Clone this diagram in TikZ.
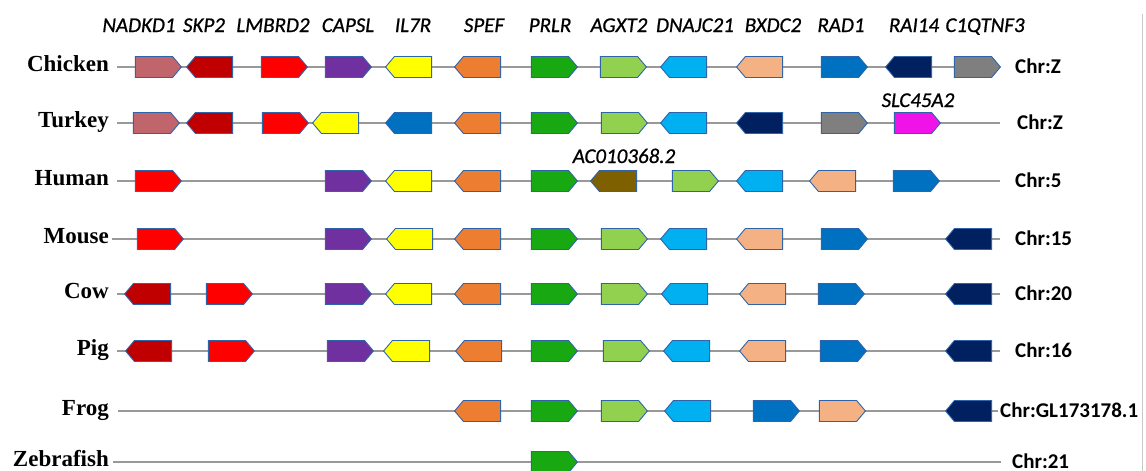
\documentclass[tikz,border=0pt]{standalone}
\usepackage{fontspec}
\setmainfont{Liberation Serif}
\setsansfont{Carlito}
\newfontfamily\headfont[FakeBold=0.8]{Carlito}
\usetikzlibrary{shapes.symbols}
\definecolor{cRose}{HTML}{C0656B}
\definecolor{cDkRed}{HTML}{C00000}
\definecolor{cRed}{HTML}{FF0000}
\definecolor{cPurple}{HTML}{7030A0}
\definecolor{cYellow}{HTML}{FFFF00}
\definecolor{cOrange}{HTML}{ED7D31}
\definecolor{cGreen}{HTML}{18A812}
\definecolor{cLtGreen}{HTML}{92D050}
\definecolor{cSky}{HTML}{00B0F0}
\definecolor{cPeach}{HTML}{F4B183}
\definecolor{cBlue}{HTML}{0070C0}
\definecolor{cNavy}{HTML}{002060}
\definecolor{cGray}{HTML}{7F7F7F}
\definecolor{cMagenta}{HTML}{F013E8}
\definecolor{cBrown}{HTML}{7F6000}
\definecolor{cEdge}{HTML}{2F64AA}
\definecolor{cLine}{HTML}{999999}
\newcommand\G[5]{\node[gene,fill=#4,signal to=#5] (#1) at (#2,#3) {};}
\begin{document}
\begin{tikzpicture}[x=1pt,y=-1pt,
  gene/.style={signal,draw=cEdge,line width=0.9pt,minimum width=46pt,minimum height=21pt,inner sep=0pt,outer sep=0pt,signal pointer angle=100},
  backbone/.style={draw=cLine,line width=1.5pt},
  head/.style={font=\headfont\itshape\fontsize{21}{24}\selectfont,anchor=base,inner sep=0pt},
  species/.style={font=\rmfamily\bfseries\fontsize{23}{26}\selectfont,anchor=base east,inner sep=0pt},
  chr/.style={font=\sffamily\bfseries\fontsize{21}{24}\selectfont,anchor=base west,inner sep=0pt}]
\useasboundingbox (0,0) rectangle (1146,471);
\draw[draw={rgb,255:red,200;green,200;blue,200},line width=1pt] (1142,14) -- (1142,471);
% headers
\node[head] (hNADKD1) at (139,32) {NADKD1};
\node[head] (hSKP2) at (204,32) {SKP2};
\node[head] (hLMBRD2) at (273,32) {LMBRD2};
\node[head] (hCAPSL) at (348,32) {CAPSL};
\node[head] (hIL7R) at (413,32) {IL7R};
\node[head] (hSPEF) at (484,32) {SPEF};
\node[head] (hPRLR) at (550,32) {PRLR};
\node[head] (hAGXT2) at (619,32) {AGXT2};
\node[head] (hDNAJC21) at (695,32) {DNAJC21};
\node[head] (hBXDC2) at (773,32) {BXDC2};
\node[head] (hRAD1) at (841,32) {RAD1};
\node[head] (hRAI14) at (914,32) {RAI14};
\node[head] (hC1QTNF3) at (985,32) {C1QTNF3};
% species labels
\node[species] (sCh) at (109,71) {Chicken};
\node[species] (sTu) at (109,127) {Turkey};
\node[species] (sHu) at (109,185) {Human};
\node[species] (sMo) at (109,243) {Mouse};
\node[species] (sCo) at (109,298) {Cow};
\node[species] (sPi) at (109,355) {Pig};
\node[species] (sFr) at (109,415) {Frog};
\node[species] (sZe) at (109,466) {Zebrafish};
% backbones
\coordinate (chS) at (117,67); \coordinate (chE) at (1000,67);
\coordinate (tuS) at (117,123); \coordinate (tuE) at (1000,123);
\coordinate (huS) at (117,181); \coordinate (huE) at (1000,181);
\coordinate (moS) at (112,239); \coordinate (moE) at (1000,239);
\coordinate (coS) at (117,294); \coordinate (coE) at (1000,294);
\coordinate (piS) at (117,351); \coordinate (piE) at (1000,351);
\coordinate (frS) at (118,411); \coordinate (frE) at (998,411);
\coordinate (zeS) at (113,462); \coordinate (zeE) at (1001,462);
\foreach \r in {ch,tu,hu,mo,co,pi,fr,ze}{\draw[backbone] (\r S) -- (\r E);}
% Chr labels
\node[chr] (cCh) at (1015,73) {Chr:Z};
\node[chr] (cTu) at (1017,129) {Chr:Z};
\node[chr] (cHu) at (1015,187) {Chr:5};
\node[chr] (cMo) at (1015,245) {Chr:15};
\node[chr] (cCo) at (1015,300) {Chr:20};
\node[chr] (cPi) at (1015,357) {Chr:16};
\node[chr] (cFr) at (1000,417) {Chr:GL173178.1};
\node[chr] (cZe) at (1012,468) {Chr:21};
% Chicken
\G{ch1}{154}{67}{cRose}{east}
\G{ch2}{214}{67}{cDkRed}{west}
\G{ch3}{280}{67}{cRed}{east}
\G{ch4}{344}{67}{cPurple}{east}
\G{ch5}{413}{67}{cYellow}{west}
\G{ch6}{482}{67}{cOrange}{west}
\G{ch7}{550}{67}{cGreen}{east}
\G{ch8}{619}{67}{cLtGreen}{east}
\G{ch9}{688}{67}{cSky}{west}
\G{ch10}{764}{67}{cPeach}{west}
\G{ch11}{840}{67}{cBlue}{east}
\G{ch12}{913}{67}{cNavy}{west}
\G{ch13}{973}{67}{cGray}{east}
% Turkey
\G{tu1}{152}{123}{cRose}{east}
\G{tu2}{214}{123}{cDkRed}{west}
\G{tu3}{281}{123}{cRed}{east}
\G{tu4}{340}{123}{cYellow}{west}
\G{tu5}{413}{123}{cBlue}{west}
\G{tu6}{482}{123}{cOrange}{west}
\G{tu7}{550}{123}{cGreen}{east}
\G{tu8}{620}{123}{cLtGreen}{east}
\G{tu9}{688}{123}{cSky}{west}
\G{tu10}{764}{123}{cNavy}{west}
\G{tu11}{840}{123}{cGray}{east}
\G{tu12}{913}{123}{cMagenta}{east}
\node[head] (lSLC) at (918,107) {SLC45A2};
% Human
\G{hu1}{154}{181}{cRed}{east}
\G{hu2}{344}{181}{cPurple}{east}
\G{hu3}{413}{181}{cYellow}{west}
\G{hu4}{482}{181}{cOrange}{west}
\G{hu5}{550}{181}{cGreen}{east}
\G{hu6}{618}{181}{cBrown}{west}
\G{hu7}{691}{181}{cLtGreen}{east}
\G{hu8}{764}{181}{cSky}{west}
\G{hu9}{837}{181}{cPeach}{west}
\G{hu10}{912}{181}{cBlue}{east}
\node[head] (lAC) at (624,163) {AC010368.2};
% Mouse
\G{mo1}{156}{239}{cRed}{east}
\G{mo2}{344}{239}{cPurple}{east}
\G{mo3}{414}{239}{cYellow}{west}
\G{mo4}{482}{239}{cOrange}{west}
\G{mo5}{550}{239}{cGreen}{east}
\G{mo6}{620}{239}{cLtGreen}{east}
\G{mo7}{688}{239}{cSky}{west}
\G{mo8}{764}{239}{cPeach}{west}
\G{mo9}{840}{239}{cBlue}{east}
\G{mo10}{973}{239}{cNavy}{west}
% Cow
\G{co1}{152}{294}{cDkRed}{west}
\G{co2}{225}{294}{cRed}{east}
\G{co3}{344}{294}{cPurple}{east}
\G{co4}{413}{294}{cYellow}{west}
\G{co5}{482}{294}{cOrange}{west}
\G{co6}{550}{294}{cGreen}{east}
\G{co7}{620}{294}{cLtGreen}{east}
\G{co8}{689}{294}{cSky}{west}
\G{co9}{767}{294}{cPeach}{west}
\G{co10}{837}{294}{cBlue}{east}
\G{co11}{973}{294}{cNavy}{west}
% Pig
\G{pi1}{153}{351}{cDkRed}{west}
\G{pi2}{227}{351}{cRed}{east}
\G{pi3}{346}{351}{cPurple}{east}
\G{pi4}{411}{351}{cYellow}{west}
\G{pi5}{483}{351}{cOrange}{west}
\G{pi6}{550}{351}{cGreen}{east}
\G{pi7}{622}{351}{cLtGreen}{east}
\G{pi8}{691}{351}{cSky}{west}
\G{pi9}{767}{351}{cPeach}{west}
\G{pi10}{839}{351}{cBlue}{east}
\G{pi11}{973}{351}{cNavy}{west}
% Frog
\G{fr1}{482}{411}{cOrange}{west}
\G{fr2}{550}{411}{cGreen}{east}
\G{fr3}{620}{411}{cLtGreen}{east}
\G{fr4}{692}{411}{cSky}{west}
\G{fr5}{772}{411}{cBlue}{east}
\G{fr6}{838}{411}{cPeach}{east}
\G{fr7}{973}{411}{cNavy}{west}
% Zebrafish
\G{ze1}{550}{462}{cGreen}{east}
\end{tikzpicture}
\end{document}
